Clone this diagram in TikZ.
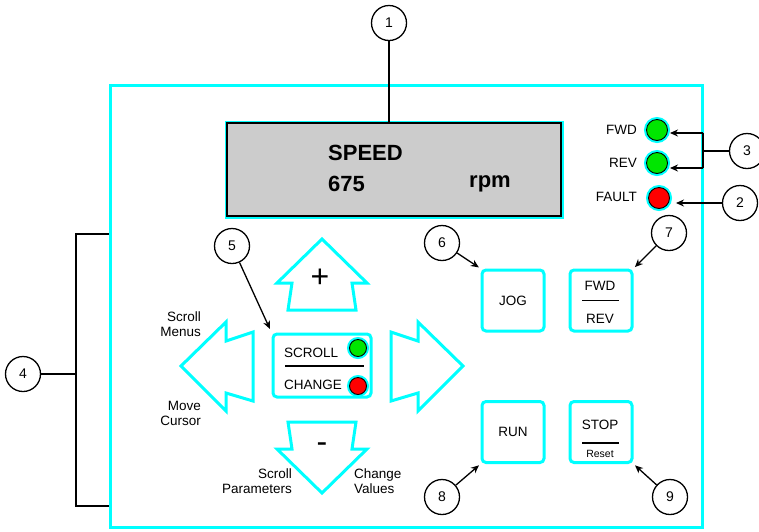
\documentclass[tikz,border=0pt]{standalone}
\usepackage{fontspec}
\setmainfont{Liberation Sans}
\usepackage{tikz}
\usetikzlibrary{arrows.meta}
\definecolor{padcyan}{RGB}{0,255,255}
\definecolor{ledgreen}{RGB}{0,230,0}
\definecolor{ledred}{RGB}{255,0,0}
\definecolor{lcdgray}{RGB}{204,204,204}
\tikzset{
  callarr/.style  = {-{Stealth[length=8pt,width=7pt]},line width=1.3pt},
  callline/.style = {line width=1.3pt},
  callout/.style  = {circle,draw,line width=1.3pt,minimum size=35pt,inner sep=0pt,font=\fontsize{14}{16}\selectfont},
  padbtn/.style   = {draw=padcyan,line width=3pt,rounded corners=4pt,minimum width=62pt,minimum height=61pt,inner sep=0pt},
  padarr/.style   = {draw=padcyan,line width=3pt,line join=miter},
  led/.style      = {circle,draw=black,line width=0.9pt,inner sep=0pt,minimum size=#1,
                     preaction={draw=padcyan,line width=5pt}},
  lbl/.style      = {font=\fontsize{13.5}{15}\selectfont,inner sep=0pt}
}

\begin{document}
\begin{tikzpicture}[x=1pt,y=-1pt]
  \useasboundingbox (0,0) rectangle (759,531);
  % panel and display
  \node[draw=padcyan,line width=3pt,minimum width=592pt,minimum height=442pt,inner sep=0pt] (panel) at (406,306) {};
  \draw[padcyan,line width=2pt] (226,122) rectangle (563,218);
  \node[draw=black,fill=lcdgray,line width=1.5pt,minimum width=334pt,minimum height=93pt,inner sep=0pt] (disp) at (394,169.5) {};
  \node[anchor=west,inner sep=0pt,font=\fontsize{22}{24}\selectfont\bfseries] at (328,153) {SPEED};
  \node[anchor=west,inner sep=0pt,font=\fontsize{22}{24}\selectfont\bfseries] at (328,184) {675};
  \node[anchor=west,inner sep=0pt,font=\fontsize{22}{24}\selectfont\bfseries] at (469,184) {rpm};

  % status leds
  \node[led=21pt,fill=ledgreen] (ledfwd)   at (657,130) {};
  \node[led=21pt,fill=ledgreen] (ledrev)   at (657,163) {};
  \node[led=21pt,fill=ledred]   (ledfault) at (659,198) {};
  \node[lbl,anchor=east] at (637,130) {FWD};
  \node[lbl,anchor=east] at (637,163) {REV};
  \node[lbl,anchor=east] at (637,197) {FAULT};

  % arrow keys
  \foreach \s in {1,-1}
    \draw[padarr,shift={(322,366)},yscale=\s] (0,-127) -- (45,-83) -- (30,-83) -- (34,-56)
      -- (-34,-56) -- (-30,-83) -- (-45,-83) -- cycle;
  \foreach \s in {1,-1}
    \draw[padarr,shift={(322,366)},xscale=\s] (-141,0) -- (-96,-44) -- (-96,-25) -- (-69,-34)
      -- (-69,35) -- (-96,27) -- (-96,45) -- cycle;
  \node[inner sep=0pt,font=\fontsize{32}{32}\selectfont] at (320,278) {+};
  \node[inner sep=0pt,font=\fontsize{32}{32}\selectfont] at (322,448) {-};
  \node[lbl,anchor=east,align=right] at (201,324) {Scroll\\Menus};
  \node[lbl,anchor=east,align=right] at (201,413) {Move\\Cursor};
  \node[lbl,anchor=east,align=right] at (292,481) {Scroll\\Parameters};
  \node[lbl,anchor=west,align=left]  at (354,481) {Change\\Values};

  % scroll / change key
  \node[padbtn,minimum width=98pt,minimum height=63pt] (scb) at (322,365.5) {};
  \node[lbl,anchor=west] at (284,353) {SCROLL};
  \node[lbl,anchor=west] at (284,385) {CHANGE};
  \draw[line width=1.2pt] (285,366) -- (364,366);
  \node[led=17pt,fill=ledgreen] (ledscroll) at (358,348) {};
  \node[led=17pt,fill=ledred]   (ledchange) at (358,386) {};

  % keys
  \node[padbtn,lbl] (jog)    at (513,300.5) {JOG};
  \node[padbtn]     (fwdrev) at (601,300.5) {};
  \node[padbtn,lbl] (run)    at (513,432) {RUN};
  \node[padbtn]     (stop)   at (601,432) {};
  \node[lbl] at (600,286) {FWD};
  \node[lbl] at (600,319) {REV};
  \draw[line width=1.2pt] ([xshift=-19pt]fwdrev.center) -- ([xshift=18pt]fwdrev.center);
  \node[lbl] at (600,425) {STOP};
  \node[inner sep=0pt,font=\fontsize{10.5}{12}\selectfont] at (600,454) {Reset};
  \draw[line width=1.2pt] ([xshift=-19pt,yshift=-11pt]stop.center) -- ([xshift=18pt,yshift=-11pt]stop.center);

  % callouts
  \node[callout] (c1) at (389,23)  {1};
  \node[callout] (c2) at (740,203) {2};
  \node[callout] (c3) at (747,151) {3};
  \node[callout] (c4) at (23,374)  {4};
  \node[callout] (c5) at (232,246) {5};
  \node[callout] (c6) at (442,243) {6};
  \node[callout] (c7) at (669,233) {7};
  \node[callout] (c8) at (442,497) {8};
  \node[callout] (c9) at (670,497) {9};

  \draw[callline] (c1.south) -- (c1.south |- disp.north);
  \coordinate (b3top) at (703,133);
  \coordinate (b3bot) at (703,168);
  \draw[callline] (b3top) -- (b3bot);
  \draw[callline] (c3.west) -- (c3.west -| b3top);
  \draw[callarr,shorten >=2pt] (b3top) -- (b3top -| ledfwd.east);
  \draw[callarr,shorten >=2pt] (b3bot) -- (b3bot -| ledrev.east);
  \draw[callarr,shorten >=6pt] (c2.west) -- (c2.west -| ledfault.east);
  \coordinate (b4top) at (76,234);
  \coordinate (b4bot) at (76,506);
  \draw[callline] (b4top -| panel.west) -- (b4top) -- (b4bot) -- (b4bot -| panel.west);
  \draw[callline] (c4.east) -- (c4.east -| b4top);
  \draw[callarr,shorten >=4pt] (c5) -- (scb.north west);
  \draw[callarr,shorten >=2pt] (c6) -- (jog.north west);
  \draw[callarr,shorten >=2pt] (c7) -- (fwdrev.north east);
  \draw[callarr,shorten >=2pt] (c8) -- (run.south west);
  \draw[callarr,shorten >=2pt] (c9) -- (stop.south east);
\end{tikzpicture}
\end{document}
